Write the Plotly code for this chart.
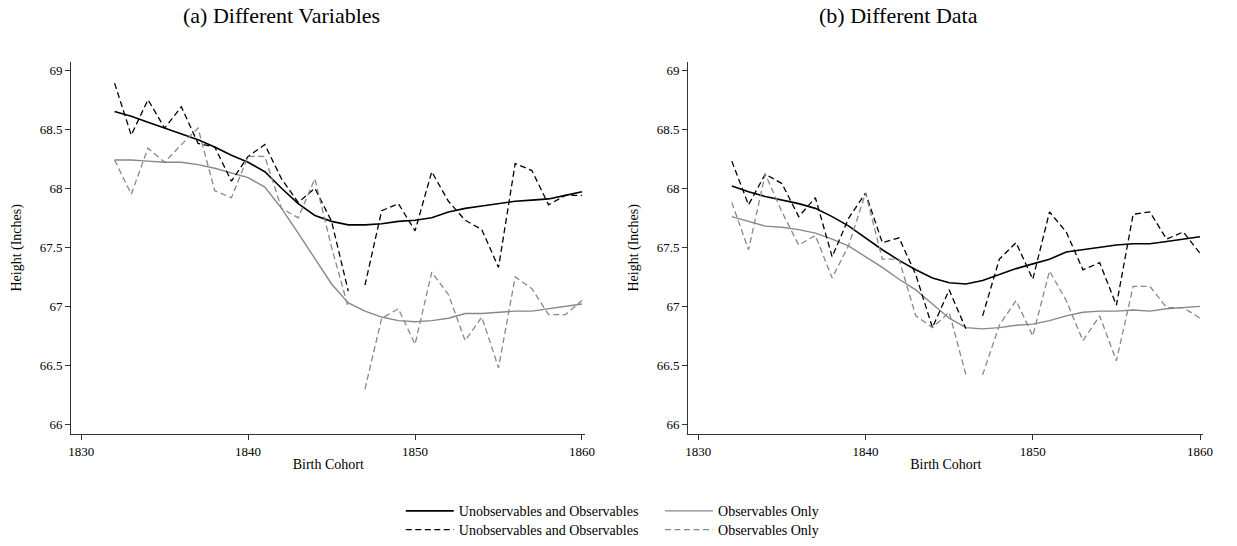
import plotly.graph_objects as go

years = list(range(1832, 1861))
gap_after = 1846  # dashed series are broken between 1846 and 1847

# Panel (a) Different Variables
a_unobs_obs_smooth = [68.65, 68.61, 68.56, 68.51, 68.46, 68.41, 68.35, 68.28, 68.22, 68.14,
                      68.00, 67.87, 67.77, 67.72, 67.69, 67.69, 67.70, 67.72, 67.73, 67.75,
                      67.80, 67.83, 67.85, 67.87, 67.89, 67.90, 67.91, 67.94, 67.97]
a_unobs_obs_raw = [68.89, 68.45, 68.75, 68.51, 68.69, 68.38, 68.35, 68.06, 68.27, 68.37,
                   68.08, 67.88, 68.00, 67.72, 67.13, 67.18, 67.81, 67.87, 67.64, 68.14,
                   67.89, 67.73, 67.65, 67.33, 68.21, 68.15, 67.86, 67.94, 67.94]
a_obs_smooth = [68.24, 68.24, 68.23, 68.22, 68.22, 68.20, 68.17, 68.13, 68.09, 68.01,
                67.83, 67.62, 67.40, 67.19, 67.03, 66.96, 66.91, 66.88, 66.87, 66.88,
                66.90, 66.94, 66.94, 66.95, 66.96, 66.96, 66.98, 67.00, 67.02]
a_obs_raw = [68.24, 67.95, 68.34, 68.22, 68.37, 68.51, 67.98, 67.92, 68.27, 68.27,
             67.83, 67.75, 68.08, 67.50, 66.99, 66.30, 66.90, 66.98, 66.68, 67.29,
             67.10, 66.71, 66.91, 66.48, 67.25, 67.15, 66.93, 66.93, 67.05]

# Panel (b) Different Data
b_unobs_obs_smooth = [68.02, 67.97, 67.93, 67.90, 67.87, 67.83, 67.76, 67.68, 67.58, 67.48,
                      67.39, 67.31, 67.24, 67.20, 67.19, 67.22, 67.27, 67.32, 67.36, 67.40,
                      67.46, 67.48, 67.50, 67.52, 67.53, 67.53, 67.55, 67.57, 67.59]
b_unobs_obs_raw = [68.23, 67.86, 68.12, 68.04, 67.76, 67.92, 67.42, 67.75, 67.96, 67.54,
                   67.58, 67.27, 66.82, 67.14, 66.81, 66.92, 67.40, 67.54, 67.23, 67.80,
                   67.63, 67.31, 67.37, 67.01, 67.78, 67.80, 67.57, 67.63, 67.45]
b_obs_smooth = [67.76, 67.72, 67.68, 67.67, 67.65, 67.62, 67.57, 67.51, 67.42, 67.33,
                67.23, 67.14, 67.02, 66.90, 66.82, 66.81, 66.82, 66.84, 66.85, 66.88,
                66.92, 66.95, 66.96, 66.96, 66.97, 66.96, 66.98, 66.99, 67.00]
b_obs_raw = [67.88, 67.48, 68.12, 67.80, 67.52, 67.60, 67.24, 67.52, 67.96, 67.40,
             67.40, 66.92, 66.82, 66.95, 66.42, 66.42, 66.84, 67.05, 66.75, 67.30,
             67.05, 66.71, 66.92, 66.54, 67.17, 67.17, 66.99, 66.99, 66.90]

y_ticks = [66, 66.5, 67, 67.5, 68, 68.5, 69]
y_tick_labels = ["66", "66.5", "67", "67.5", "68", "68.5", "69"]
x_ticks = [1830, 1840, 1850, 1860]

label_both = "Unobservables and Observables"
label_obs = "Observables Only"
panel_titles = ["(a) Different Variables", "(b) Different Data"]

FONT = "Liberation Serif"
BLACK = "#000000"
GRAY = "#888888"
DASH = "6px,3.5px"

fig = go.Figure()
cut = years.index(gap_after) + 1

panels = [
    ("x", "y", a_unobs_obs_smooth, a_unobs_obs_raw, a_obs_smooth, a_obs_raw, True),
    ("x2", "y2", b_unobs_obs_smooth, b_unobs_obs_raw, b_obs_smooth, b_obs_raw, False),
]

for xa, ya, bs, bd, gs, gd, show in panels:
    fig.add_trace(go.Scatter(x=years, y=bs, mode="lines", xaxis=xa, yaxis=ya,
                             line=dict(color=BLACK, width=1.6), name=label_both,
                             legend="legend", showlegend=show))
    fig.add_trace(go.Scatter(x=years, y=gs, mode="lines", xaxis=xa, yaxis=ya,
                             line=dict(color=GRAY, width=1.4), name=label_obs,
                             legend="legend2", showlegend=show))
    for part, (xs, ys) in enumerate([(years[:cut], bd[:cut]), (years[cut:], bd[cut:])]):
        fig.add_trace(go.Scatter(x=xs, y=ys, mode="lines", xaxis=xa, yaxis=ya,
                                 line=dict(color=BLACK, width=1.3, dash=DASH), name=label_both,
                                 legend="legend3", showlegend=(show and part == 0)))
    for part, (xs, ys) in enumerate([(years[:cut], gd[:cut]), (years[cut:], gd[cut:])]):
        fig.add_trace(go.Scatter(x=xs, y=ys, mode="lines", xaxis=xa, yaxis=ya,
                                 line=dict(color=GRAY, width=1.3, dash=DASH), name=label_obs,
                                 legend="legend4", showlegend=(show and part == 0)))

W, H = 1237, 546
y_dom = [1 - 437.3 / H, 1 - 62 / H]
x_range = [1829.4, 1860.2]
y_range = [65.919, 69.073]

TICKFONT = dict(family=FONT, size=13, color="#000")
TITLEFONT = dict(family=FONT, size=14, color="#000")

common_x = dict(range=x_range, tickvals=x_ticks, showline=True, linecolor="#333333", linewidth=1.2,
                ticks="outside", ticklen=5, tickcolor="#333333", tickwidth=1.2, showgrid=False,
                zeroline=False, tickfont=TICKFONT,
                title=dict(text="Birth Cohort", font=TITLEFONT, standoff=1))
common_y = dict(range=y_range, domain=y_dom, tickvals=y_ticks, ticktext=y_tick_labels, showline=True,
                linecolor="#333333", linewidth=1.2, ticks="outside", ticklen=5, tickcolor="#333333",
                tickwidth=1.2, showgrid=False, zeroline=False, tickfont=TICKFONT,
                title=dict(text="Height (Inches)", font=TITLEFONT, standoff=14))


def leg(xpix, ypix):
    return dict(x=xpix / W, y=1 - ypix / H, xanchor="left", yanchor="middle", orientation="v",
                font=dict(family=FONT, size=14, color="#000"), bgcolor="rgba(0,0,0,0)",
                borderwidth=0, itemwidth=48)


fig.update_layout(
    width=W, height=H,
    margin=dict(l=0, r=0, t=0, b=0),
    paper_bgcolor="white", plot_bgcolor="white",
    font=dict(family=FONT, color="#000"),
    xaxis=dict(domain=[68.9 / W, 588.5 / W], anchor="y", **common_x),
    yaxis=dict(anchor="x", **common_y),
    xaxis2=dict(domain=[692.6 / W, 1213.1 / W], anchor="y2", **common_x),
    yaxis2=dict(anchor="x2", **common_y),
    legend=leg(402, 515),
    legend2=leg(664, 515),
    legend3=leg(402, 534),
    legend4=leg(664, 534),
    annotations=[
        dict(text=panel_titles[0], x=180 / W, y=1 - 16 / H, xref="paper", yref="paper",
             showarrow=False, xanchor="left", yanchor="middle",
             font=dict(family=FONT, size=22, color="#000")),
        dict(text=panel_titles[1], x=823 / W, y=1 - 16 / H, xref="paper", yref="paper",
             showarrow=False, xanchor="left", yanchor="middle",
             font=dict(family=FONT, size=22, color="#000")),
    ],
)

fig.write_html("out.html", config={"displayModeBar": False},
               post_script="document.body.style.margin='0';document.body.style.overflow='hidden';")
